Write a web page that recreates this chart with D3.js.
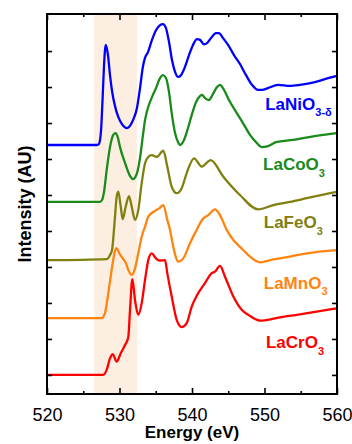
<!DOCTYPE html>
<html>
<head>
<meta charset="utf-8">
<script src="https://cdn.jsdelivr.net/npm/d3@7"></script>
<style>
  html, body { margin: 0; padding: 0; background: #fff; }
  svg { display: block; font-family: "Liberation Sans", Arial, sans-serif; }
</style>
</head>
<body>
<div id="chart"></div>
<script>
// Energy (eV) / normalised intensity (offset, arbitrary units)
var niE = [520, 526.9, 527.17, 527.45, 527.66, 527.86, 528.1, 528.41, 528.69, 528.97, 529.38, 529.79, 530.34, 531.03, 531.45, 531.86, 532.41, 532.83, 533.24, 533.52, 533.93, 534.48, 535.03, 535.59, 536.0, 536.41, 536.83, 537.24, 537.66, 538.07, 538.48, 539.03, 539.59, 540.14, 540.69, 541.1, 541.66, 542.07, 542.62, 543.31, 543.72, 544.28, 544.97, 545.79, 546.62, 547.45, 548.28, 549.1, 549.66, 550.48, 551.86, 553.52, 554.9, 556.97, 558.34, 560];
var niI = [6.39, 6.39, 6.42, 6.78, 7.64, 8.58, 9.17, 8.89, 8.33, 7.89, 7.47, 7.19, 6.97, 6.86, 6.92, 7.08, 7.42, 7.97, 8.58, 8.81, 8.97, 9.31, 9.58, 9.72, 9.75, 9.64, 9.25, 8.75, 8.42, 8.28, 8.33, 8.56, 8.89, 9.17, 9.33, 9.31, 9.19, 9.22, 9.36, 9.5, 9.5, 9.36, 9.17, 8.89, 8.64, 8.33, 8.06, 7.92, 7.92, 7.97, 8.06, 8.03, 8.06, 8.14, 8.22, 8.31];

var coE = [520, 527.31, 527.59, 527.86, 528.23, 528.69, 529.14, 529.48, 529.79, 530.07, 530.76, 531.45, 531.86, 532.37, 532.83, 533.24, 533.52, 533.79, 534.48, 535.03, 535.59, 536.0, 536.41, 536.83, 537.24, 537.66, 538.07, 538.34, 538.9, 539.45, 540.0, 540.55, 541.1, 541.38, 541.79, 542.34, 542.9, 543.45, 543.86, 544.41, 545.1, 546.07, 547.03, 548.0, 548.83, 549.66, 550.48, 551.59, 553.93, 556.14, 558.07, 560];
var coI = [4.81, 4.81, 4.86, 5.08, 5.69, 6.33, 6.67, 6.72, 6.58, 6.33, 5.89, 5.53, 5.44, 5.58, 6.03, 6.67, 7.08, 7.33, 7.72, 7.97, 8.25, 8.33, 8.25, 7.86, 7.22, 6.72, 6.47, 6.39, 6.53, 6.86, 7.25, 7.58, 7.75, 7.78, 7.69, 7.64, 7.81, 8.0, 8.06, 7.92, 7.64, 7.31, 7.0, 6.67, 6.47, 6.33, 6.36, 6.47, 6.53, 6.61, 6.67, 6.72];

var feE = [520, 528.28, 528.69, 528.97, 529.38, 529.61, 529.83, 530.17, 530.44, 530.86, 531.31, 531.68, 532.14, 532.59, 533.06, 533.52, 533.97, 534.44, 535.13, 536.04, 536.59, 537.2, 537.89, 538.58, 539.27, 540.28, 541.34, 542.58, 544.32, 546.62, 549.14, 551.21, 553.52, 555.82, 560];
var feI = [3.19, 3.22, 3.33, 3.47, 4.40, 4.95, 5.09, 4.68, 4.33, 4.68, 4.97, 4.68, 4.31, 4.58, 5.33, 5.88, 6.06, 6.11, 6.06, 6.23, 5.79, 5.23, 5.05, 5.19, 5.61, 6.02, 5.79, 5.97, 5.51, 5.0, 4.60, 4.72, 4.81, 4.91, 5.09];

var mnE = [520, 527.54, 528.0, 528.46, 528.92, 529.38, 529.61, 529.97, 530.44, 530.9, 531.21, 531.68, 532.14, 532.59, 533.06, 533.52, 533.97, 534.9, 535.49, 536.04, 536.59, 536.97, 537.42, 538.11, 538.8, 539.72, 540.41, 541.56, 542.25, 543.17, 543.86, 544.79, 545.7, 546.62, 547.77, 549.38, 551.21, 553.52, 555.82, 560];
var mnI = [1.58, 1.58, 1.72, 2.28, 2.92, 3.45, 3.52, 3.38, 3.24, 3.10, 2.92, 2.78, 2.96, 3.38, 3.84, 4.12, 4.40, 4.56, 4.63, 4.72, 4.31, 4.03, 3.56, 3.15, 3.24, 3.66, 3.94, 4.35, 4.44, 4.60, 4.44, 4.03, 3.75, 3.56, 3.33, 3.13, 3.21, 3.29, 3.38, 3.47];

var crE = [520, 527.72, 528.23, 528.69, 529.06, 529.61, 530.17, 530.76, 531.21, 531.45, 531.77, 532.14, 532.59, 533.06, 533.52, 533.97, 534.44, 535.03, 535.49, 536.28, 536.59, 537.2, 537.89, 538.58, 539.27, 539.96, 540.65, 541.79, 542.72, 543.17, 543.86, 544.55, 545.7, 546.86, 547.77, 549.38, 550.99, 552.14, 554.44, 557.2, 560];
var crI = [0, 0, 0.14, 0.46, 0.58, 0.37, 0.60, 0.83, 1.05, 1.8, 2.66, 2.08, 1.67, 1.99, 2.64, 3.19, 3.38, 3.24, 3.18, 3.19, 2.83, 2.18, 1.53, 1.33, 1.44, 1.90, 2.20, 2.55, 2.83, 2.87, 3.03, 2.73, 2.18, 1.81, 1.67, 1.51, 1.55, 1.60, 1.67, 1.76, 1.85];

var series = [
  { name: "LaNiO", sub: "3-\u03b4", color: "#0000ff", e: niE, v: niI, labelE: 550.1, labelV: 7.37 },
  { name: "LaCoO", sub: "3", color: "#1a8a1a", e: coE, v: coI, labelE: 549.8, labelV: 5.69 },
  { name: "LaFeO", sub: "3", color: "#808010", e: feE, v: feI, labelE: 549.9, labelV: 4.07 },
  { name: "LaMnO", sub: "3", color: "#ff8410", e: mnE, v: mnI, labelE: 549.9, labelV: 2.4 },
  { name: "LaCrO", sub: "3", color: "#ff0000", e: crE, v: crI, labelE: 550.2, labelV: 0.74 }
];

var xTicks = [520, 530, 540, 550, 560];
var xMinor = [525, 535, 545, 555];
var yTicks = [0, 1, 2, 3, 4, 5, 6, 7, 8, 9];
var band = [526.5, 532.4];

var W = 352, H = 444;
var margin = { top: 14, right: 15, bottom: 50, left: 47 };
var iW = W - margin.left - margin.right;
var iH = H - margin.top - margin.bottom;

var svg = d3.select("#chart").append("svg").attr("width", W).attr("height", H);
var g = svg.append("g").attr("transform", "translate(" + margin.left + "," + margin.top + ")");

var x = d3.scaleLinear().domain([520, 560]).range([0, iW]);
var y = d3.scaleLinear().domain([-0.53, 10.03]).range([iH, 0]);

// shaded pre-edge region
g.append("rect")
  .attr("x", x(band[0]))
  .attr("width", x(band[1]) - x(band[0]))
  .attr("y", 0)
  .attr("height", iH)
  .attr("fill", "#fdeee2");

var line = d3.line()
  .x(function (d) { return x(d[0]); })
  .y(function (d) { return y(d[1]); })
  .curve(d3.curveMonotoneX);

g.selectAll(".spec")
  .data(series)
  .join("path")
  .attr("class", "spec")
  .attr("fill", "none")
  .attr("stroke", function (d) { return d.color; })
  .attr("stroke-width", 2.3)
  .attr("stroke-linejoin", "round")
  .attr("d", function (d) { return line(d.e.map(function (e, i) { return [e, d.v[i]]; })); });

// labels
var lab = g.selectAll(".lab")
  .data(series)
  .join("text")
  .attr("class", "lab")
  .attr("x", function (d) { return x(d.labelE); })
  .attr("y", function (d) { return y(d.labelV); })
  .attr("fill", function (d) { return d.color; })
  .attr("font-weight", "bold")
  .attr("font-size", 17);
lab.append("tspan").text(function (d) { return d.name; });
lab.append("tspan")
  .attr("dy", 6.5)
  .attr("font-size", 11)
  .text(function (d) { return d.sub; });

// axes (ticks inward)
var axB = d3.axisBottom(x).tickValues(xTicks).tickSize(-6).tickPadding(14).tickFormat(d3.format("d"));
var axBm = d3.axisBottom(x).tickValues(xMinor).tickSize(-3).tickFormat("");
var axT = d3.axisTop(x).tickValues(xTicks).tickSize(-6).tickFormat("");
var axTm = d3.axisTop(x).tickValues(xMinor).tickSize(-3).tickFormat("");
var axL = d3.axisLeft(y).tickValues(yTicks).tickSize(-5).tickFormat("");
var axR = d3.axisRight(y).tickValues(yTicks).tickSize(-5).tickFormat("");

function styleAxis(sel) {
  sel.select(".domain").remove();
  sel.selectAll(".tick line").attr("stroke", "#000").attr("stroke-width", 1.6);
  sel.selectAll(".tick text").attr("fill", "#000").attr("font-size", 18)
    .attr("font-family", "'Liberation Sans', Arial, sans-serif");
}

g.append("g").attr("transform", "translate(0," + iH + ")").call(axB).call(styleAxis);
g.append("g").attr("transform", "translate(0," + iH + ")").call(axBm).call(styleAxis);
g.append("g").call(axT).call(styleAxis);
g.append("g").call(axTm).call(styleAxis);
g.append("g").call(axL).call(styleAxis);
g.append("g").attr("transform", "translate(" + iW + ",0)").call(axR).call(styleAxis);

g.append("rect")
  .attr("width", iW)
  .attr("height", iH)
  .attr("fill", "none")
  .attr("stroke", "#000")
  .attr("stroke-width", 2);

// axis titles
svg.append("text")
  .attr("x", margin.left + iW / 2)
  .attr("y", 438)
  .attr("text-anchor", "middle")
  .attr("font-weight", "bold")
  .attr("font-size", 17)
  .text("Energy (eV)");

svg.append("text")
  .attr("transform", "translate(31," + (margin.top + iH / 2) + ") rotate(-90)")
  .attr("text-anchor", "middle")
  .attr("font-weight", "bold")
  .attr("font-size", 18)
  .text("Intensity (AU)");
</script>
</body>
</html>
